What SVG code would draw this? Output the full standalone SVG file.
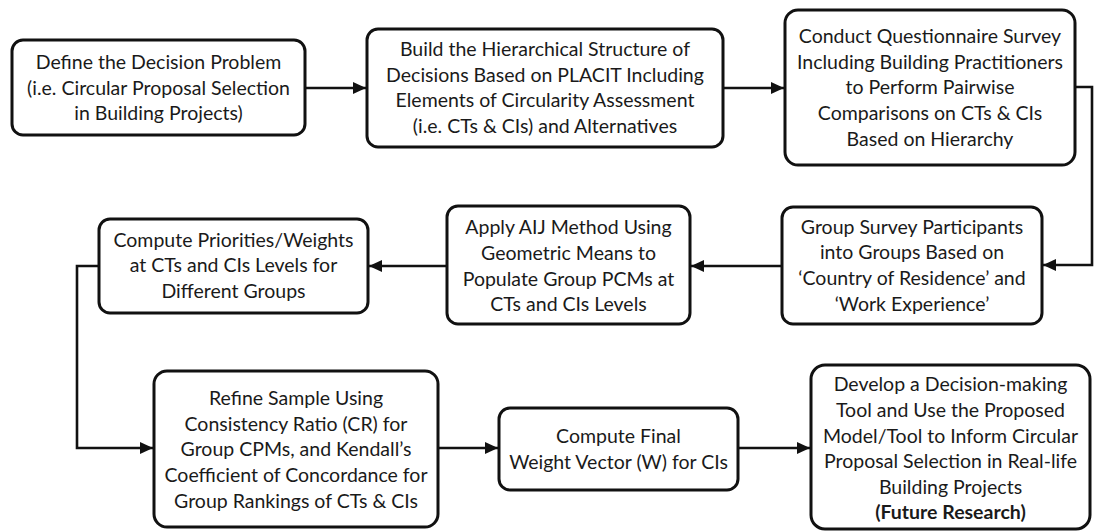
<svg xmlns="http://www.w3.org/2000/svg" width="1094" height="531" viewBox="0 0 1094 531">
<defs>
<style>
.box{fill:#fff;stroke:#111;stroke-width:3}
.t{font-family:Lato,"Open Sans","Liberation Sans",sans-serif;font-size:19.5px;fill:#1a1a1a;text-anchor:middle}
.b{font-weight:bold}
.c{fill:none;stroke:#111;stroke-width:2.6}
</style>
<marker id="ah" markerUnits="userSpaceOnUse" markerWidth="14" markerHeight="14" viewBox="0 0 14 14" refX="13" refY="7" orient="auto">
<path d="M0,1 L13,7 L0,13 z" fill="#111"/>
</marker>
</defs>
<rect width="1094" height="531" fill="#fff"/>
<g id="connectors">
<path class="c" d="M305,88 H366" marker-end="url(#ah)"/>
<path class="c" d="M723,88 H784" marker-end="url(#ah)"/>
<path class="c" d="M1075,87 H1092 V265 H1043" marker-end="url(#ah)"/>
<path class="c" d="M782,266 H691" marker-end="url(#ah)"/>
<path class="c" d="M447,266 H369" marker-end="url(#ah)"/>
<path class="c" d="M99,266 H77 V448 H153" marker-end="url(#ah)"/>
<path class="c" d="M438,448 H498" marker-end="url(#ah)"/>
<path class="c" d="M738,448 H810" marker-end="url(#ah)"/>
</g>
<g id="n1">
<rect class="box" x="12" y="40" width="293" height="95" rx="11"/>
<text class="t" x="158.5" y="69">Define the Decision Problem</text>
<text class="t" x="158.5" y="95">(i.e. Circular Proposal Selection</text>
<text class="t" x="158.5" y="120">in Building Projects)</text>
</g>
<g id="n2">
<rect class="box" x="367" y="29" width="356" height="118" rx="11"/>
<text class="t" x="545" y="56">Build the Hierarchical Structure of</text>
<text class="t" x="545" y="82">Decisions Based on PLACIT Including</text>
<text class="t" x="545" y="107">Elements of Circularity Assessment</text>
<text class="t" x="545" y="133">(i.e. CTs &amp; CIs) and Alternatives</text>
</g>
<g id="n3">
<rect class="box" x="785" y="10" width="290" height="155" rx="13"/>
<text class="t" x="930" y="43">Conduct Questionnaire Survey</text>
<text class="t" x="930" y="69">Including Building Practitioners</text>
<text class="t" x="930" y="94">to Perform Pairwise</text>
<text class="t" x="930" y="120">Comparisons on CTs &amp; CIs</text>
<text class="t" x="930" y="146">Based on Hierarchy</text>
</g>
<g id="n4">
<rect class="box" x="782" y="207" width="260" height="117" rx="11"/>
<text class="t" x="912" y="234">Group Survey Participants</text>
<text class="t" x="912" y="259">into Groups Based on</text>
<text class="t" x="912" y="285">‘Country of Residence’ and</text>
<text class="t" x="912" y="311">‘Work Experience’</text>
</g>
<g id="n5">
<rect class="box" x="447" y="206" width="243" height="118" rx="11"/>
<text class="t" x="568.5" y="234">Apply AIJ Method Using</text>
<text class="t" x="568.5" y="260">Geometric Means to</text>
<text class="t" x="568.5" y="286">Populate Group PCMs at</text>
<text class="t" x="568.5" y="311">CTs and CIs Levels</text>
</g>
<g id="n6">
<rect class="box" x="99" y="219" width="269" height="94" rx="11"/>
<text class="t" x="233.5" y="247">Compute Priorities/Weights</text>
<text class="t" x="233.5" y="272">at CTs and CIs Levels for</text>
<text class="t" x="233.5" y="298">Different Groups</text>
</g>
<g id="n7">
<rect class="box" x="154" y="371" width="284" height="156" rx="13"/>
<text class="t" x="296" y="405">Refine Sample Using</text>
<text class="t" x="296" y="431">Consistency Ratio (CR) for</text>
<text class="t" x="296" y="456">Group CPMs, and Kendall’s</text>
<text class="t" x="296" y="482">Coefficient of Concordance for</text>
<text class="t" x="296" y="508">Group Rankings of CTs &amp; CIs</text>
</g>
<g id="n8">
<rect class="box" x="499" y="408" width="239" height="82" rx="11"/>
<text class="t" x="618.5" y="443">Compute Final</text>
<text class="t" x="618.5" y="469">Weight Vector (W) for CIs</text>
</g>
<g id="n9">
<rect class="box" x="811" y="365" width="279" height="164" rx="14"/>
<text class="t" x="950.5" y="391">Develop a Decision-making</text>
<text class="t" x="950.5" y="417">Tool and Use the Proposed</text>
<text class="t" x="950.5" y="443">Model/Tool to Inform Circular</text>
<text class="t" x="950.5" y="468">Proposal Selection in Real-life</text>
<text class="t" x="950.5" y="494">Building Projects</text>
<text class="t b" x="950.5" y="519">(Future Research)</text>
</g>
</svg>
